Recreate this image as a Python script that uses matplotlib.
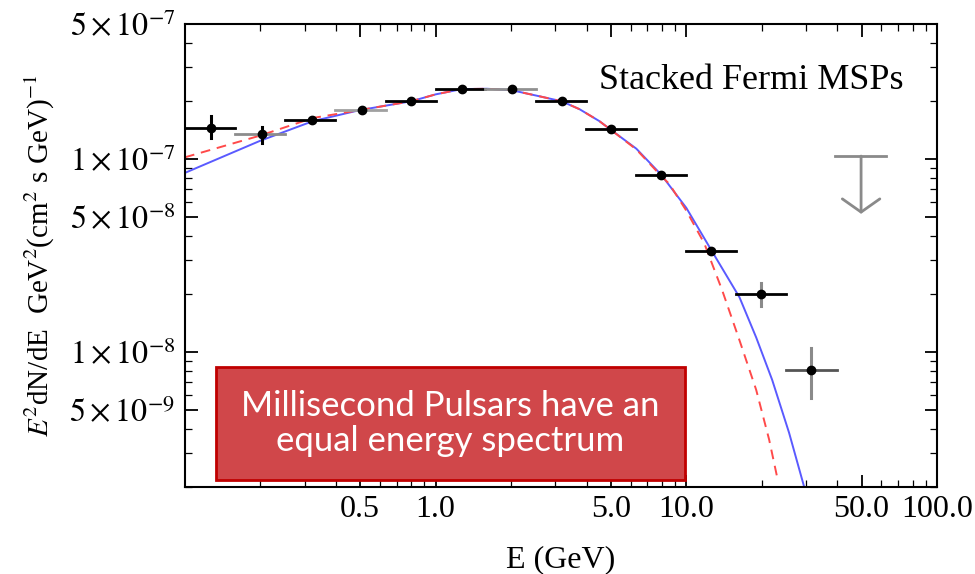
import matplotlib
matplotlib.use("Agg")
import matplotlib.pyplot as plt
from matplotlib.patches import Rectangle
from matplotlib.ticker import FixedLocator, FixedFormatter, NullFormatter
import numpy as np

plt.rcParams['font.family'] = ['Liberation Serif', 'DejaVu Serif']
plt.rcParams['mathtext.fontset'] = 'stix'

# stacked MSP spectrum
energy = [0.127, 0.203, 0.321, 0.507, 0.80, 1.27, 2.01, 3.18, 5.02, 7.95, 12.6, 19.9, 31.5]
e_lo = [0.100, 0.158, 0.251, 0.398, 0.631, 1.00, 1.58, 2.51, 3.98, 6.31, 10.0, 15.8, 25.1]
e_hi = [0.158, 0.251, 0.398, 0.631, 1.00, 1.58, 2.51, 3.98, 6.31, 10.0, 15.8, 25.1, 39.8]
flux = [1.45e-7, 1.345e-7, 1.59e-7, 1.79e-7, 1.99e-7, 2.30e-7, 2.30e-7,
        1.99e-7, 1.43e-7, 8.27e-8, 3.32e-8, 1.99e-8, 8.07e-9]
flux_lo = [1.28e-7, 1.21e-7, 1.55e-7, 1.75e-7, 1.95e-7, 2.26e-7, 2.26e-7,
           1.95e-7, 1.40e-7, 8.10e-8, 3.25e-8, 1.73e-8, 5.8e-9]
flux_hi = [1.67e-7, 1.46e-7, 1.63e-7, 1.83e-7, 2.03e-7, 2.34e-7, 2.34e-7,
           2.03e-7, 1.46e-7, 8.45e-8, 3.40e-8, 2.27e-8, 1.05e-8]
xbar_color = ['k', '#8c8c8c', 'k', '#a0a0a0', 'k', 'k', '#909090',
              'k', 'k', 'k', 'k', 'k', '#555555']
ybar_color = ['k'] * 11 + ['#8a8a8a', '#8a8a8a']

# upper limit
ul_e, ul_lo, ul_hi = 49.8, 39.2, 62.6
ul_flux, ul_tip = 1.035e-7, 5.2e-8

# fitted spectra, sampled along the drawn curves
blue_e = [0.100, 0.199, 0.324, 0.498, 0.80, 1.00, 1.27, 1.60, 2.01, 2.60, 3.18,
          3.75, 4.50, 5.02, 6.32, 7.95, 10.0, 12.6, 16.3, 19.0, 22.0, 25.7, 29.5]
blue_f = [8.47e-8, 1.24e-7, 1.57e-7, 1.79e-7, 1.99e-7, 2.16e-7, 2.30e-7, 2.31e-7,
          2.27e-7, 2.11e-7, 1.99e-7, 1.81e-7, 1.57e-7, 1.41e-7, 1.13e-7, 8.27e-8,
          5.58e-8, 3.36e-8, 1.92e-8, 1.19e-8, 7.18e-9, 3.82e-9, 2.01e-9]
red_e = [0.100, 0.199, 0.324, 0.498, 0.80, 1.00, 1.27, 1.60, 2.01, 2.60, 3.18,
         3.75, 4.50, 5.02, 6.32, 7.95, 8.55, 10.0, 11.8, 13.9, 16.3, 19.0, 21.4, 23.0]
red_f = [1.02e-7, 1.32e-7, 1.63e-7, 1.79e-7, 1.99e-7, 2.16e-7, 2.30e-7, 2.31e-7,
         2.27e-7, 2.11e-7, 1.99e-7, 1.81e-7, 1.57e-7, 1.41e-7, 1.12e-7, 8.15e-8,
         7.43e-8, 5.40e-8, 3.65e-8, 2.09e-8, 1.15e-8, 6.37e-9, 3.52e-9, 2.27e-9]

x_ticks = [0.5, 1.0, 5.0, 10.0, 50.0, 100.0]
x_ticklabels = ['0.5', '1.0', '5.0', '10.0', '50.0', '100.0']
y_ticks = [5e-9, 1e-8, 5e-8, 1e-7, 5e-7]
y_ticklabels = [r'$5\times10^{-9}$', r'$1\times10^{-8}$', r'$5\times10^{-8}$',
                r'$1\times10^{-7}$', r'$5\times10^{-7}$']

fig = plt.figure(figsize=(9.75, 5.74), dpi=100)
ax = fig.add_axes([0.1897, 0.1516, 0.7713, 0.8066])
ax.set_xscale('log')
ax.set_yscale('log')

ax.plot(blue_e, blue_f, color='#5a5aff', lw=1.4, zorder=2)
ax.plot(red_e, red_f, color='#ff4a4a', lw=1.4, ls=(0, (5, 3.5)), zorder=2)

e = np.array(energy)
f = np.array(flux)
for i in range(len(e)):
    ax.plot([e_lo[i], e_hi[i]], [f[i], f[i]], color=xbar_color[i], lw=2, zorder=3)
    ax.plot([e[i], e[i]], [flux_lo[i], flux_hi[i]], color=ybar_color[i], lw=2.2, zorder=3)
ax.plot(e, f, 'o', color='k', ms=6, zorder=4)

# upper limit bar and arrow
ax.plot([ul_lo, ul_hi], [ul_flux, ul_flux], color='#8a8a8a', lw=2)
ax.annotate('', xy=(ul_e, ul_tip), xytext=(ul_e, ul_flux),
            arrowprops=dict(arrowstyle='->,head_length=0.95,head_width=1.35',
                            color='#8a8a8a', lw=2, shrinkA=0, shrinkB=0))

ax.set_xlim(0.1, 100)
ax.set_ylim(2e-9, 5e-7)

ax.xaxis.set_major_locator(FixedLocator(x_ticks))
ax.xaxis.set_major_formatter(FixedFormatter(x_ticklabels))
ax.xaxis.set_minor_formatter(NullFormatter())
ax.yaxis.set_major_locator(FixedLocator(y_ticks))
ax.yaxis.set_major_formatter(FixedFormatter(y_ticklabels))
ax.yaxis.set_minor_formatter(NullFormatter())
ax.tick_params(which='both', direction='in', top=True, right=True, labelsize=23)
ax.tick_params(which='major', length=9, width=1.3)
ax.tick_params(which='minor', length=5, width=0.9)
ax.tick_params(axis='x', pad=6)
ax.tick_params(axis='y', pad=7)
for s in ax.spines.values():
    s.set_linewidth(1.5)

ax.set_xlabel('E (GeV)', fontsize=23, labelpad=15)
ax.set_ylabel(r'$E^2$dN/dE  GeV$^2$(cm$^2$ s GeV)$^{-1}$', fontsize=21, labelpad=9)

ax.text(0.955, 0.877, 'Stacked Fermi MSPs', transform=ax.transAxes,
        ha='right', va='center', fontsize=26)

# callout box
fig.patches.append(Rectangle((0.2215, 0.1638), 0.481, 0.197, transform=fig.transFigure,
                             facecolor='#D0474A', edgecolor='#C00000', lw=2, zorder=10))
fig.text(0.462, 0.262, 'Millisecond Pulsars have an\nequal energy spectrum',
         ha='center', va='center', color='white', fontsize=25, family='Lato',
         linespacing=1.1, zorder=11)

fig.savefig('out.png', dpi=100)
